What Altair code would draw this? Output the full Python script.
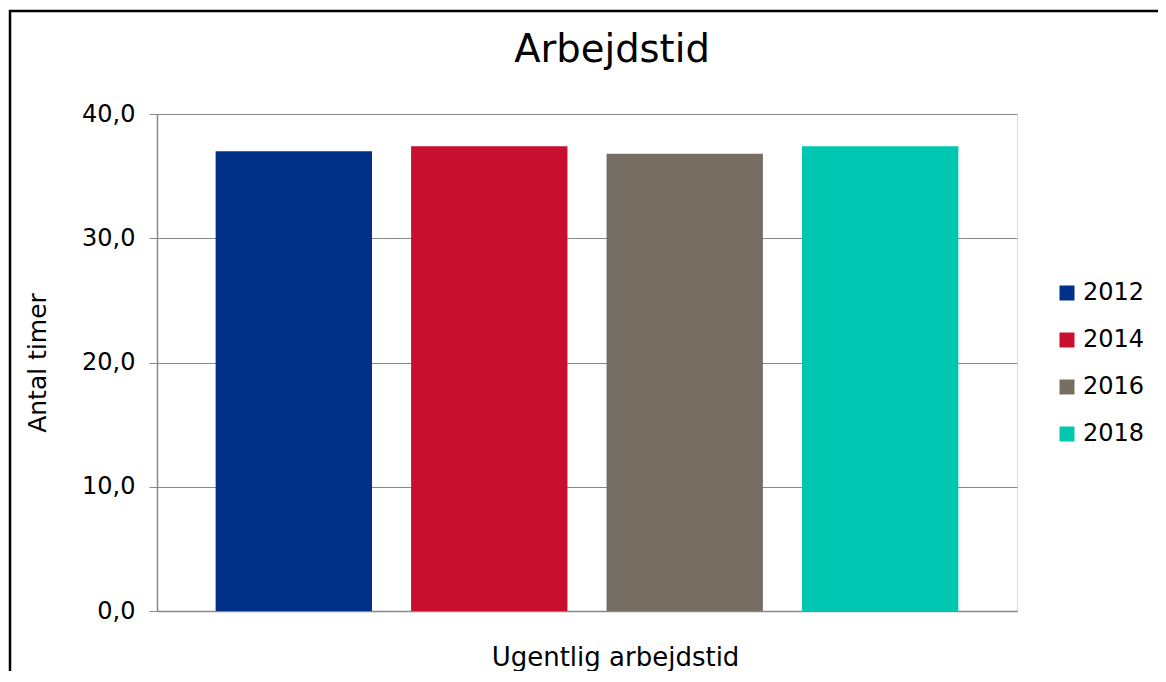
import altair as alt
import pandas as pd

years = ["2012", "2014", "2016", "2018"]
hours = [37.0, 37.4, 36.8, 37.4]
colors = ["#003087", "#C8102E", "#776E63", "#00C7B1"]
y_ticks = [0, 10, 20, 30, 40]
chart_title = "Arbejdstid"

df = pd.DataFrame({"year": years, "hours": hours})

FONT = "DejaVu Sans"
GRAY = "#888888"

bars = alt.Chart(df).mark_bar().encode(
    x=alt.X(
        "year:N",
        scale=alt.Scale(paddingInner=0.2, paddingOuter=0.3),
        axis=alt.Axis(
            labels=False, ticks=False, grid=False,
            domainColor=GRAY, domainWidth=1.5,
            title="Ugentlig arbejdstid", titleFontSize=26, titleFontWeight="normal",
            titleFont=FONT, titleColor="black", titlePadding=33,
            titleX=458, titleAnchor="start", titleAlign="center",
        ),
    ),
    y=alt.Y(
        "hours:Q",
        scale=alt.Scale(domain=[0, 40], nice=False),
        axis=alt.Axis(
            values=y_ticks,
            labelExpr="replace(format(datum.value, '.1f'), '.', ',')",
            labelFontSize=24, labelFont=FONT, labelColor="black", labelPadding=14,
            tickSize=8, tickColor=GRAY, domainColor=GRAY, domainWidth=1.5,
            grid=True, gridColor=GRAY, gridWidth=1.2,
            title="Antal timer", titleFontSize=25, titleFontWeight="normal",
            titleFont=FONT, titleColor="black", titlePadding=31,
        ),
    ),
    color=alt.Color(
        "year:N",
        scale=alt.Scale(domain=years, range=colors),
        legend=alt.Legend(
            title=None, orient="none", legendX=898, legendY=167,
            symbolType="square", symbolSize=225, symbolStrokeWidth=0,
            labelFontSize=24, labelFont=FONT, labelColor="black",
            labelOffset=4, rowPadding=23, padding=0,
        ),
    ),
)

frame = alt.Chart(alt.Data(values=[{}])).mark_rect(
    filled=False, stroke="black", strokeWidth=2.5
).encode(
    x=alt.value(-147), x2=alt.value(1030),
    y=alt.value(-103), y2=alt.value(600),
)

title = alt.Chart(alt.Data(values=[{"t": chart_title}])).mark_text(
    font=FONT, fontSize=38.5, color="black", align="center", baseline="alphabetic"
).encode(
    text="t:N",
    x=alt.value(455), y=alt.value(-52),
)

chart = alt.layer(frame, bars, title).properties(
    width=860,
    height=497,
    autosize=alt.AutoSizeParams(type="none"),
    padding={"left": 149, "top": 106, "right": 141, "bottom": 60},
).configure_view(strokeWidth=0).configure(background="white")

chart.save("out.html", embed_options={"renderer": "svg", "actions": False})
